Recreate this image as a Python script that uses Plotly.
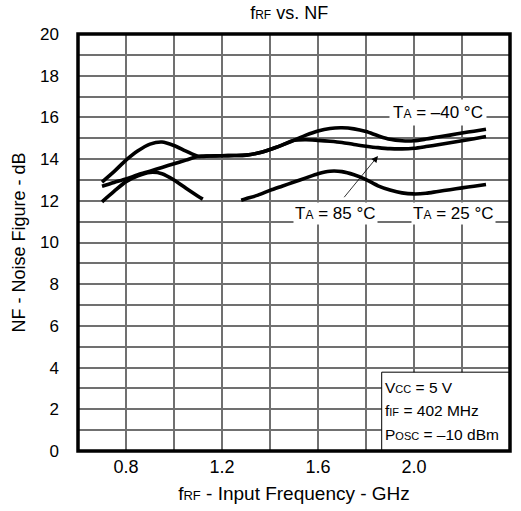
import plotly.graph_objects as go

# ---- data ----
freq = [0.70, 0.75, 0.80, 0.85, 0.90, 0.95, 1.00, 1.05, 1.10, 1.15, 1.20, 1.25,
        1.30, 1.35, 1.40, 1.45, 1.50, 1.55, 1.60, 1.65, 1.70, 1.75, 1.80, 1.85,
        1.90, 1.95, 2.00, 2.05, 2.10, 2.15, 2.20, 2.25, 2.30]

nf_m40 = [12.90, 13.40, 13.95, 14.40, 14.72, 14.82, 14.65, 14.38, 14.14, 14.15, 14.16, 14.17,
          14.19, 14.29, 14.46, 14.67, 14.90, 15.15, 15.35, 15.47, 15.50, 15.45, 15.32, 15.12,
          14.95, 14.88, 14.88, 14.96, 15.06, 15.15, 15.25, 15.34, 15.43]

nf_85 = [12.70, 12.88, 13.05, 13.25, 13.42, 13.60, 13.78, 13.95, 14.12, 14.15, 14.16, 14.17,
         14.19, 14.29, 14.46, 14.67, 14.90, 14.93, 14.90, 14.86, 14.80, 14.70, 14.62, 14.55,
         14.50, 14.49, 14.52, 14.60, 14.69, 14.78, 14.88, 14.98, 15.08]

freq_25 = [0.70, 0.75, 0.80, 0.85, 0.90, 0.95, 1.00, 1.05, 1.10, 1.12, 1.20,
           1.28, 1.30, 1.35, 1.40, 1.45, 1.50, 1.55, 1.60, 1.65, 1.70, 1.75, 1.80, 1.85,
           1.90, 1.95, 2.00, 2.05, 2.10, 2.15, 2.20, 2.25, 2.30]
nf_25 = [11.95, 12.45, 12.92, 13.20, 13.36, 13.30, 13.00, 12.60, 12.22, 12.08, None,
         12.03, 12.10, 12.27, 12.50, 12.70, 12.90, 13.10, 13.30, 13.42, 13.40, 13.25, 13.02, 12.72,
         12.52, 12.38, 12.33, 12.36, 12.45, 12.53, 12.62, 12.70, 12.78]

# grid positions and the labels shown on them ("" = grid line without label)
x_grid = [0.6, 0.8, 1.0, 1.2, 1.4, 1.6, 1.8, 2.0, 2.2, 2.4]
x_grid_text = ["", "0.8", "", "1.2", "", "1.6", "", "2.0", "", "2.4"]
y_grid = list(range(0, 21))
y_grid_text = [str(v) if v % 2 == 0 else "" for v in y_grid]

FONT = "Liberation Sans"
SUB = "<span style='font-size:{}px'>{}</span>"
grid = "#707070"
gw = 1.6

fig = go.Figure()

line = dict(color="black", width=3.6, shape="spline", smoothing=0.8)
fig.add_trace(go.Scatter(x=freq, y=nf_m40, mode="lines", line=line, name="TA = -40 C"))
fig.add_trace(go.Scatter(x=freq, y=nf_85, mode="lines", line=line, name="TA = 85 C"))
fig.add_trace(go.Scatter(x=freq_25, y=nf_25, mode="lines", line=line, name="TA = 25 C",
                         connectgaps=False))

fig.update_layout(
    width=521, height=511,
    margin=dict(l=78, r=11, t=34, b=57),
    paper_bgcolor="white", plot_bgcolor="white",
    showlegend=False,
    font=dict(family=FONT, color="black", size=17),
    title=dict(text="f" + SUB.format(12, "RF") + " vs. NF", x=0.555, xanchor="center",
               y=0.976, yanchor="middle", yref="container",
               font=dict(family=FONT, size=18, color="black")),
    xaxis=dict(range=[0.6, 2.4], tickmode="array", tickvals=x_grid, ticktext=x_grid_text,
               showgrid=True, gridcolor=grid, gridwidth=gw, zeroline=False,
               showline=False, ticks="", ticklabelstandoff=3,
               tickfont=dict(size=18),
               title=dict(text="f" + SUB.format(13, "RF") + " - Input Frequency - GHz",
                          font=dict(size=19), standoff=10)),
    yaxis=dict(range=[0, 20], tickmode="array", tickvals=y_grid, ticktext=y_grid_text,
               showgrid=True, gridcolor=grid, gridwidth=gw, zeroline=False,
               showline=False, ticks="", ticklabelstandoff=18,
               tickfont=dict(size=17),
               title=dict(text="NF - Noise Figure - dB", font=dict(size=18), standoff=9)),
)

# conditions box (bottom right) and plot border
fig.add_shape(type="rect", xref="paper", yref="paper", x0=0.703, x1=1.0, y0=0.0, y1=0.189,
              fillcolor="white", line=dict(color="black", width=1), layer="above")
fig.add_shape(type="rect", xref="paper", yref="paper", x0=0, x1=1, y0=0, y1=1,
              line=dict(color="black", width=3.5), layer="above")

def T(label):
    return "T" + SUB.format(12, "A") + " = " + label + " °C"

fig.add_annotation(x=2.10, y=16.24, text=T("–40"), showarrow=False, bgcolor="white",
                   borderpad=3, font=dict(size=17))
fig.add_annotation(x=1.671, y=11.38, text=T("85"), showarrow=False, bgcolor="white",
                   borderpad=1, font=dict(size=17))
fig.add_annotation(x=2.1625, y=11.38, text=T("25"), showarrow=False, bgcolor="white",
                   borderpad=1, font=dict(size=17))
# arrow from 85 C label to its curve
fig.add_annotation(x=1.85, y=14.15, ax=1.704, ay=12.1, axref="x", ayref="y", xref="x", yref="y",
                   text="", showarrow=True, arrowhead=2, arrowsize=1.6, arrowwidth=0.8,
                   arrowcolor="black")

cond = ["V" + SUB.format(11, "CC") + " = 5 V",
        "f" + SUB.format(11, "IF") + " = 402 MHz",
        "P" + SUB.format(11, "OSC") + " = –10 dBm"]
cond_y = [3.05, 1.95, 0.81]
for t, yy in zip(cond, cond_y):
    fig.add_annotation(xref="paper", x=0.706, y=yy, text=t, showarrow=False,
                       xanchor="left", yanchor="middle", font=dict(size=15.5))

fig.write_html("out.html")
